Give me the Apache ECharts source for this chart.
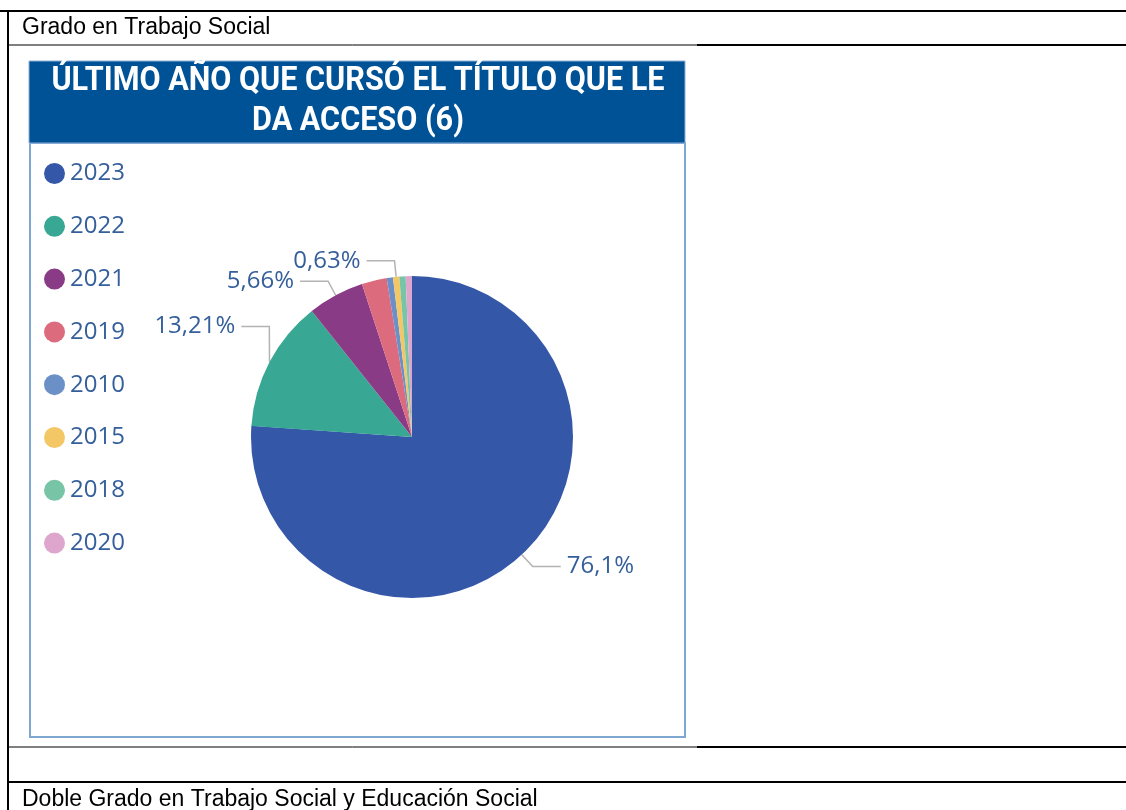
<!DOCTYPE html>
<html>
<head>
<meta charset="utf-8">
<title>Último año que cursó el título</title>
<script src="https://cdn.jsdelivr.net/npm/echarts@6/dist/echarts.min.js"></script>
<style>html,body{margin:0;padding:0;background:#fff}</style>
</head>
<body>
<div id="chart" style="width:1126px;height:810px"></div>
<script>
// datos (n = 159)
const years = ['2023', '2022', '2021', '2019', '2010', '2015', '2018', '2020'];
const counts = [121, 21, 9, 4, 1, 1, 1, 1];
const colors = ['#3457a8', '#38a793', '#8a3b86', '#dd6b7e', '#6b90c8', '#f4c766', '#78c4a6', '#dea6cd'];
const shownLabels = ['2023', '2022', '2021', '2015'];

const txtColor = '#345f9b';
const font = 'Open Sans';
const titleFont = 'bold 34px Roboto';

function line(x1, y1, x2, y2, w) {
	return {type: 'line', silent: true, shape: {x1: x1, y1: y1, x2: x2, y2: y2}, style: {stroke: '#000', lineWidth: w}};
}

// sube la etiqueta de 2022 como en el original, moviendo tambien su linea guia
function moveLabel(p) {
	if (p.dataIndex !== 1 || !p.labelLinePoints) return {};
	const dx = 14, dy = -28;
	const pts = p.labelLinePoints;
	return {
		dx: dx,
		dy: dy,
		labelLinePoints: [pts[0], [pts[1][0] + dx, pts[1][1] + dy], [pts[2][0] + dx, pts[2][1] + dy]]
	};
}

let chart = echarts.init(document.getElementById('chart'));
chart.setOption({
	animation: false,
	color: colors,
	graphic: [
		// tabla del documento
		line(0, 11, 1126, 11, 2),
		line(8, 10, 8, 810, 2),
		line(8, 45, 697, 45, 1),
		line(697, 45, 1126, 45, 2),
		line(8, 747, 697, 747, 1),
		line(697, 747, 1126, 747, 2),
		line(8, 782, 1126, 782, 2),
		{type: 'text', left: 22, top: 16, style: {text: 'Grado en Trabajo Social', font: '23px "Liberation Sans"', fill: '#000'}},
		{type: 'text', left: 22, top: 788, style: {text: 'Doble Grado en Trabajo Social y Educación Social', font: '23px "Liberation Sans"', fill: '#000'}},
		// cabecera del visual
		{type: 'rect', shape: {x: 29, y: 61, width: 656, height: 82}, style: {fill: '#005296', stroke: '#8fb0d6', lineWidth: 1}},
		{type: 'text', x: 358, y: 81, scaleX: 0.9, style: {text: 'ÚLTIMO AÑO QUE CURSÓ EL TÍTULO QUE LE', font: titleFont, fill: '#fff', align: 'center', verticalAlign: 'middle'}},
		{type: 'text', x: 358, y: 121, scaleX: 0.9, style: {text: 'DA ACCESO (6)', font: titleFont, fill: '#fff', align: 'center', verticalAlign: 'middle'}},
		{type: 'rect', z: -1, shape: {x: 30, y: 143, width: 655, height: 594}, style: {fill: '#fff', stroke: '#7ea7d2', lineWidth: 2}}
	],
	legend: {
		orient: 'vertical',
		left: 44,
		top: 161,
		padding: 0,
		icon: 'circle',
		itemWidth: 21,
		itemHeight: 21,
		itemGap: 27.8,
		selectedMode: false,
		textStyle: {color: txtColor, fontFamily: font, fontSize: 24, lineHeight: 25, padding: [0, 0, 0, 0]},
		data: years
	},
	series: [{
		type: 'pie',
		center: [412, 437],
		radius: [0, 161],
		startAngle: 90,
		clockwise: true,
		avoidLabelOverlap: false,
		emphasis: {disabled: true},
		label: {
			position: 'outside',
			color: txtColor,
			fontFamily: font,
			fontSize: 24,
			distanceToLabelLine: 6,
			formatter: p => String(p.percent).replace('.', ',') + '%'
		},
		labelLine: {length: 16, length2: 28, lineStyle: {color: '#b3b3b3', width: 1.5}},
		labelLayout: moveLabel,
		data: years.map((y, i) => ({
			name: y,
			value: counts[i],
			label: {show: shownLabels.includes(y)},
			labelLine: {show: shownLabels.includes(y)}
		}))
	}]
});
</script>
</body>
</html>
